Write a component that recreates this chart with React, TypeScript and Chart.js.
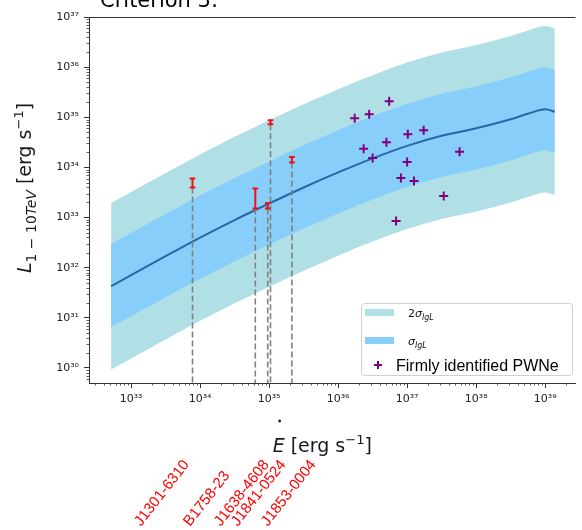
import { useEffect, useRef } from 'react';
import { Chart, registerables } from 'chart.js';

Chart.register(...registerables);

// ---- data (log10 values) ----
const bandLogE = [32.71, 33.0, 33.5, 34.0, 34.5, 35.0, 35.5, 36.0, 36.5, 37.0, 37.5, 38.0, 38.5, 38.75, 39.0, 39.14];
const bandCenter = [31.63, 31.85, 32.23, 32.6, 32.95, 33.28, 33.6, 33.9, 34.18, 34.43, 34.63, 34.78, 34.96, 35.07, 35.16, 35.11];
const band1Upper = [32.47, 32.69, 33.07, 33.44, 33.79, 34.12, 34.44, 34.74, 35.02, 35.27, 35.47, 35.62, 35.8, 35.91, 36.0, 35.95];
const band1Lower = [30.81, 31.03, 31.41, 31.78, 32.13, 32.46, 32.78, 33.08, 33.36, 33.61, 33.81, 33.96, 34.14, 34.25, 34.34, 34.29];
const band2Upper = [33.29, 33.51, 33.89, 34.26, 34.61, 34.94, 35.26, 35.56, 35.84, 36.09, 36.29, 36.44, 36.62, 36.73, 36.82, 36.77];
const band2Lower = [29.97, 30.19, 30.57, 30.94, 31.29, 31.62, 31.94, 32.24, 32.52, 32.77, 32.97, 33.12, 33.3, 33.41, 33.5, 33.45];

const pwneLogEdot = [36.74, 36.24, 36.45, 37.01, 37.24, 36.7, 36.37, 36.5, 37.0, 37.76, 36.91, 37.1, 37.53, 36.84];
const pwneLogL = [35.32, 34.98, 35.06, 34.66, 34.74, 34.5, 34.37, 34.19, 34.11, 34.31, 33.79, 33.73, 33.43, 32.93];

const pulsarNames = ['J1301-6310', 'B1758-23', 'J1638-4608', 'J1841-0524', 'J1853-0004'];
const pulsarLogEdot = [33.89, 34.8, 34.98, 35.02, 35.33];
const pulsarLogLLow = [33.6, 33.18, 33.18, 34.86, 34.1];
const pulsarLogLHigh = [33.78, 33.58, 33.29, 34.94, 34.21];
const pulsarLabelLogEdot = [33.143, 33.855, 34.3, 34.545, 34.98];

const xTickExps = [33, 34, 35, 36, 37, 38, 39];
const yTickExps = [30, 31, 32, 33, 34, 35, 36, 37];
const xLogMin = 32.39;
const xLogMax = 39.44;
const yLogMin = 29.7;
const yLogMax = 37;

const SUP: Record<string, string> = {
  '0': '⁰', '1': '¹', '2': '²', '3': '³', '4': '⁴', '5': '⁵', '6': '⁶', '7': '⁷', '8': '⁸', '9': '⁹', '-': '⁻',
};
const supStr = (n: number) => String(n).split('').map((c) => SUP[c] ?? c).join('');
const decadeLabel = (v: number) => '10' + supStr(Math.round(Math.log10(v)));

type Part = { t: string; font: string; dy?: number };
const richWidth = (ctx: CanvasRenderingContext2D, parts: Part[]) => {
  let w = 0;
  for (const p of parts) {
    ctx.font = p.font;
    w += ctx.measureText(p.t).width;
  }
  return w;
};
const drawRich = (ctx: CanvasRenderingContext2D, parts: Part[], x: number, y: number) => {
  let cx = x;
  for (const p of parts) {
    ctx.font = p.font;
    ctx.fillText(p.t, cx, y + (p.dy || 0));
    cx += ctx.measureText(p.t).width;
  }
  return cx;
};

const DV = '"DejaVu Sans", sans-serif';
const LS = '"Liberation Sans", Arial, sans-serif';

const decorPlugin = {
  id: 'decor',
  afterDraw(chart: any) {
    const ctx: CanvasRenderingContext2D = chart.ctx;
    const { left, right, top, bottom } = chart.chartArea;
    const xs = chart.scales.x;
    const ys = chart.scales.y;
    ctx.save();

    // top spine
    ctx.strokeStyle = '#333';
    ctx.lineWidth = 1;
    ctx.beginPath();
    ctx.moveTo(left, top + 0.5);
    ctx.lineTo(right, top + 0.5);
    ctx.stroke();

    // minor ticks
    ctx.lineWidth = 0.8;
    for (let d = Math.floor(xLogMin); d <= Math.ceil(xLogMax); d++) {
      for (let k = 2; k <= 9; k++) {
        const v = k * Math.pow(10, d);
        if (v < xs.min || v > xs.max) continue;
        const px = Math.round(xs.getPixelForValue(v)) + 0.5;
        ctx.beginPath();
        ctx.moveTo(px, bottom);
        ctx.lineTo(px, bottom + 2.5);
        ctx.stroke();
      }
    }
    for (let d = Math.floor(yLogMin); d <= Math.ceil(yLogMax); d++) {
      for (let k = 2; k <= 9; k++) {
        const v = k * Math.pow(10, d);
        if (v < ys.min || v > ys.max) continue;
        const py = Math.round(ys.getPixelForValue(v)) + 0.5;
        ctx.beginPath();
        ctx.moveTo(left - 2.5, py);
        ctx.lineTo(left, py);
        ctx.stroke();
      }
    }

    // title (cut at top of the picture)
    ctx.fillStyle = '#000';
    ctx.textBaseline = 'alphabetic';
    ctx.textAlign = 'left';
    ctx.font = `21px ${DV}`;
    ctx.fillText('Criterion 3:', 100, 7);

    // x axis title
    ctx.fillStyle = '#1a1a1a';
    const xParts: Part[] = [
      { t: 'E', font: `italic 19px ${DV}` },
      { t: ' [erg s', font: `19px ${DV}` },
      { t: '−1', font: `13px ${DV}`, dy: -8 },
      { t: ']', font: `19px ${DV}` },
    ];
    const xw = richWidth(ctx, xParts);
    const xStart = (left + right) / 2 - xw / 2 - 10;
    drawRich(ctx, xParts, xStart, 452);
    ctx.beginPath();
    ctx.arc(xStart + 7, 421, 1.4, 0, Math.PI * 2);
    ctx.fill();

    // y axis title
    const yParts: Part[] = [
      { t: 'L', font: `italic 19px ${DV}` },
      { t: '1 − 10', font: `14px ${DV}`, dy: 5 },
      { t: 'TeV', font: `italic 14px ${DV}`, dy: 5 },
      { t: ' [erg s', font: `19px ${DV}` },
      { t: '−1', font: `13px ${DV}`, dy: -8 },
      { t: ']', font: `19px ${DV}` },
    ];
    const yw = richWidth(ctx, yParts);
    ctx.save();
    ctx.translate(31, 188);
    ctx.rotate(-Math.PI / 2);
    drawRich(ctx, yParts, -yw / 2, 0);
    ctx.restore();

    // pulsar labels
    ctx.fillStyle = '#ff0000';
    ctx.font = `15px ${LS}`;
    const ang = (52 * Math.PI) / 180;
    pulsarNames.forEach((name, i) => {
      const px = xs.getPixelForValue(Math.pow(10, pulsarLabelLogEdot[i]));
      ctx.save();
      ctx.translate(px, 527);
      ctx.rotate(-ang);
      ctx.fillText(name, 0, 0);
      ctx.restore();
    });

    // legend
    const bx = 361.5, by = 303.5, bw = 211, bh = 72;
    ctx.beginPath();
    (ctx as any).roundRect(bx, by, bw, bh, 3);
    ctx.fillStyle = 'rgba(255,255,255,0.85)';
    ctx.fill();
    ctx.strokeStyle = '#cfcfcf';
    ctx.lineWidth = 1;
    ctx.stroke();

    ctx.fillStyle = '#b0e0e6';
    ctx.fillRect(365, 309, 29, 7);
    ctx.fillStyle = '#87cefa';
    ctx.fillRect(365, 337, 29, 7);

    ctx.fillStyle = '#111';
    drawRich(ctx, [
      { t: '2', font: `11px ${DV}` },
      { t: 'σ', font: `italic 11px ${DV}` },
      { t: 'lgL', font: `italic 8px ${DV}`, dy: 3 },
    ], 408, 317);
    drawRich(ctx, [
      { t: 'σ', font: `italic 11px ${DV}` },
      { t: 'lgL', font: `italic 8px ${DV}`, dy: 3 },
    ], 408, 345);

    ctx.strokeStyle = '#800080';
    ctx.lineWidth = 2;
    ctx.beginPath();
    ctx.moveTo(374, 365);
    ctx.lineTo(382, 365);
    ctx.moveTo(378, 361);
    ctx.lineTo(378, 369);
    ctx.stroke();

    ctx.fillStyle = '#000';
    ctx.font = `16px ${LS}`;
    ctx.fillText('Firmly identified PWNe', 396, 370.5);

    ctx.restore();
  },
};

export default function App() {
  const ref = useRef<HTMLCanvasElement>(null);

  useEffect(() => {
    const canvas = ref.current;
    if (!canvas) return;
    const toPts = (xsArr: number[], ysArr: number[]) =>
      xsArr.map((x, i) => ({ x: Math.pow(10, x), y: Math.pow(10, ysArr[i]) }));
    const yMinVal = Math.pow(10, yLogMin);
    const clear = 'rgba(0,0,0,0)';

    const bandCommon = {
      borderColor: clear,
      borderWidth: 0,
      pointRadius: 0,
      cubicInterpolationMode: 'monotone' as const,
    };

    const datasets: any[] = [
      { ...bandCommon, label: '2s up', data: toPts(bandLogE, band2Upper), fill: '+1', backgroundColor: '#b0e0e6', order: 10 },
      { ...bandCommon, label: '2s lo', data: toPts(bandLogE, band2Lower), fill: false, order: 10 },
      { ...bandCommon, label: '1s up', data: toPts(bandLogE, band1Upper), fill: '+1', backgroundColor: '#87cefa', order: 9 },
      { ...bandCommon, label: '1s lo', data: toPts(bandLogE, band1Lower), fill: false, order: 9 },
      {
        label: 'center',
        data: toPts(bandLogE, bandCenter),
        borderColor: '#2668a6',
        borderWidth: 2,
        pointRadius: 0,
        fill: false,
        cubicInterpolationMode: 'monotone',
        order: 8,
      },
    ];

    pulsarNames.forEach((name, i) => {
      datasets.push({
        label: name + ' line',
        data: [
          { x: Math.pow(10, pulsarLogEdot[i]), y: Math.pow(10, pulsarLogLLow[i]) },
          { x: Math.pow(10, pulsarLogEdot[i]), y: yMinVal },
        ],
        borderColor: '#808080',
        borderWidth: 1.6,
        borderDash: [6, 3],
        pointRadius: 0,
        fill: false,
        order: 5,
      });
    });
    pulsarNames.forEach((name, i) => {
      datasets.push({
        label: name + ' err',
        data: [
          { x: Math.pow(10, pulsarLogEdot[i]), y: Math.pow(10, pulsarLogLLow[i]) },
          { x: Math.pow(10, pulsarLogEdot[i]), y: Math.pow(10, pulsarLogLHigh[i]) },
        ],
        borderColor: '#ee1111',
        borderWidth: 2,
        pointStyle: 'line',
        pointRadius: 2.8,
        pointBorderColor: '#ee1111',
        pointBorderWidth: 2,
        fill: false,
        order: 3,
      });
    });
    datasets.push({
      label: 'Firmly identified PWNe',
      data: toPts(pwneLogEdot, pwneLogL),
      showLine: false,
      pointStyle: 'cross',
      pointRadius: 4.5,
      borderColor: '#800080',
      backgroundColor: '#800080',
      pointBorderColor: '#800080',
      pointBorderWidth: 2,
      fill: false,
      order: 0,
    });

    const tickFont = { family: 'DejaVu Sans', size: 11 };

    const chart = new Chart(canvas, {
      type: 'line',
      data: { datasets },
      options: {
        animation: false,
        responsive: false,
        devicePixelRatio: 1,
        events: [],
        layout: { padding: { top: 17, left: 0, right: 0, bottom: 0 } },
        plugins: { legend: { display: false }, tooltip: { enabled: false } },
        scales: {
          x: {
            type: 'logarithmic',
            min: Math.pow(10, xLogMin),
            max: Math.pow(10, xLogMax),
            afterBuildTicks: (s: any) => {
              s.ticks = xTickExps.map((e) => ({ value: Math.pow(10, e) }));
            },
            afterFit: (s: any) => {
              s.height = 147;
            },
            ticks: {
              callback: (v: any) => decadeLabel(Number(v)),
              autoSkip: false,
              maxRotation: 0,
              minRotation: 0,
              font: tickFont,
              color: '#222',
              padding: 5,
            },
            grid: { display: true, drawOnChartArea: false, drawTicks: true, tickLength: 5, tickColor: '#333', tickWidth: 1 },
            border: { display: true, color: '#333', width: 1 },
          },
          y: {
            type: 'logarithmic',
            min: Math.pow(10, yLogMin),
            max: Math.pow(10, yLogMax),
            afterBuildTicks: (s: any) => {
              s.ticks = yTickExps.map((e) => ({ value: Math.pow(10, e) }));
            },
            afterFit: (s: any) => {
              s.width = 89;
            },
            ticks: {
              callback: (v: any) => decadeLabel(Number(v)),
              autoSkip: false,
              font: tickFont,
              color: '#222',
              padding: 5,
            },
            grid: { display: true, drawOnChartArea: false, drawTicks: true, tickLength: 5, tickColor: '#333', tickWidth: 1 },
            border: { display: true, color: '#333', width: 1 },
          },
        },
      } as any,
      plugins: [decorPlugin],
    });

    return () => chart.destroy();
  }, []);

  return (
    <div style={{ position: 'absolute', left: 0, top: 0, width: 582, height: 530, background: '#fff' }}>
      <canvas ref={ref} width={582} height={530} style={{ display: 'block', width: 582, height: 530 }} />
    </div>
  );
}
